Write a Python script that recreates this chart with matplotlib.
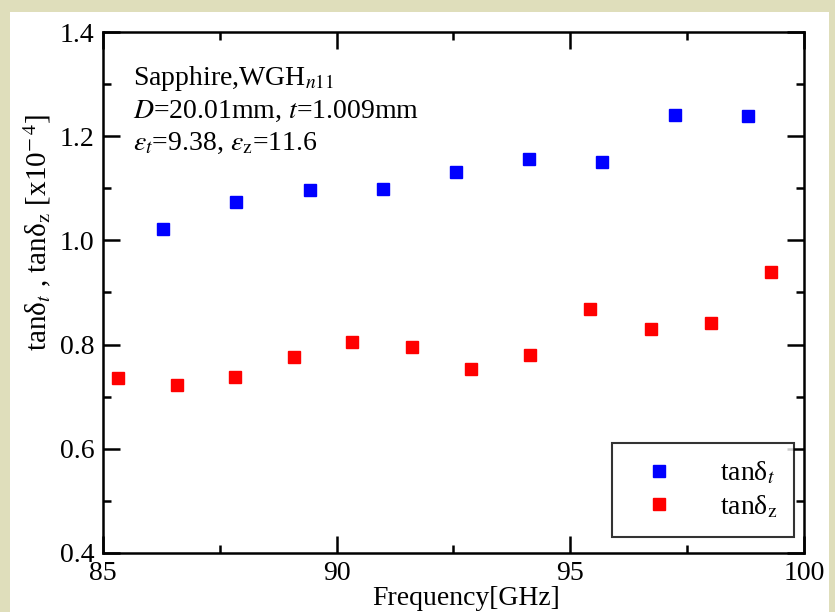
import numpy as np
import matplotlib
matplotlib.use('Agg')
import matplotlib.pyplot as plt
from matplotlib.patches import Rectangle
from matplotlib.ticker import MultipleLocator

# data
freq_t = [86.28, 87.85, 89.43, 90.99, 92.55, 94.12, 95.68, 97.24, 98.80]
tan_t = [1.022, 1.074, 1.097, 1.099, 1.131, 1.156, 1.150, 1.241, 1.239]
freq_z = [85.32, 86.58, 87.82, 89.09, 90.33, 91.61, 92.88, 94.14, 95.42, 96.73, 98.01, 99.30]
tan_z = [0.736, 0.722, 0.738, 0.776, 0.805, 0.795, 0.753, 0.780, 0.868, 0.830, 0.841, 0.939]

plt.rcParams['font.family'] = ['Liberation Serif', 'DejaVu Serif']
plt.rcParams['mathtext.fontset'] = 'stix'
plt.rcParams['font.size'] = 20

fig = plt.figure(figsize=(8.35, 6.12), dpi=100)
fig.patch.set_facecolor('#dfdebb')
# white panel
fig.patches.append(Rectangle((10 / 835, 0), 819 / 835, 1 - 12 / 612, transform=fig.transFigure,
                             facecolor='white', edgecolor='none', zorder=-10))

ax = fig.add_axes([103 / 835, 1 - 553 / 612, 701 / 835, 521 / 612])
ax.set_zorder(5)
ax.plot(freq_t, tan_t, 's', color='#0000ff', markersize=8, label='tanδ$_t$')
ax.plot(freq_z, tan_z, 's', color='#ff0000', markersize=8, label='tanδ$_\\mathrm{z}$')

ax.set_xlim(85, 100)
ax.set_ylim(0.4, 1.4)
ax.xaxis.set_major_locator(MultipleLocator(5))
ax.xaxis.set_minor_locator(MultipleLocator(2.5))
ax.yaxis.set_minor_locator(MultipleLocator(0.1))
ax.set_yticks([0.4, 0.6, 0.8, 1.0, 1.2, 1.4])
ax.set_yticklabels(['0.4', '0.6', '0.8', '1.0', '1.2', '1.4'])
ax.tick_params(which='both', direction='in', top=True, right=True, width=1.8)
ax.tick_params(which='major', length=12, pad=6)
ax.tick_params(which='minor', length=6)
for s in ax.spines.values():
    s.set_linewidth(1.8)

ax.set_xlabel('Frequency[GHz]')
ax.xaxis.set_label_coords(0.518, -0.063)
ax.set_ylabel('tanδ$_t$ , tanδ$_\\mathrm{z}$ [x10$^{\\mathrm{-\\,4}}$]', fontsize=21)
ax.yaxis.set_label_coords(-0.072, 0.615)

ax.text(0.043, 0.898, 'Sapphire,WGH$_{n\\mathrm{11}}$', transform=ax.transAxes, va='baseline')
ax.text(0.043, 0.835, '$D$=20.01mm, $t$=1.009mm', transform=ax.transAxes, va='baseline')
ax.text(0.043, 0.774, '$\\varepsilon_t$=9.38, $\\varepsilon_\\mathrm{z}$=11.6', transform=ax.transAxes, va='baseline')

leg = ax.legend(loc='lower right', bbox_to_anchor=(0.986, 0.031), markerfirst=True, frameon=True,
                fancybox=False, edgecolor='black', handlelength=2.2, handletextpad=1.1,
                borderpad=0.6, borderaxespad=0, labelspacing=0.25, alignment='right')
leg.get_frame().set_linewidth(1.5)
for t in leg.get_texts():
    t.set_ha('right')

fig.savefig('out.png', dpi=100, facecolor=fig.get_facecolor())
